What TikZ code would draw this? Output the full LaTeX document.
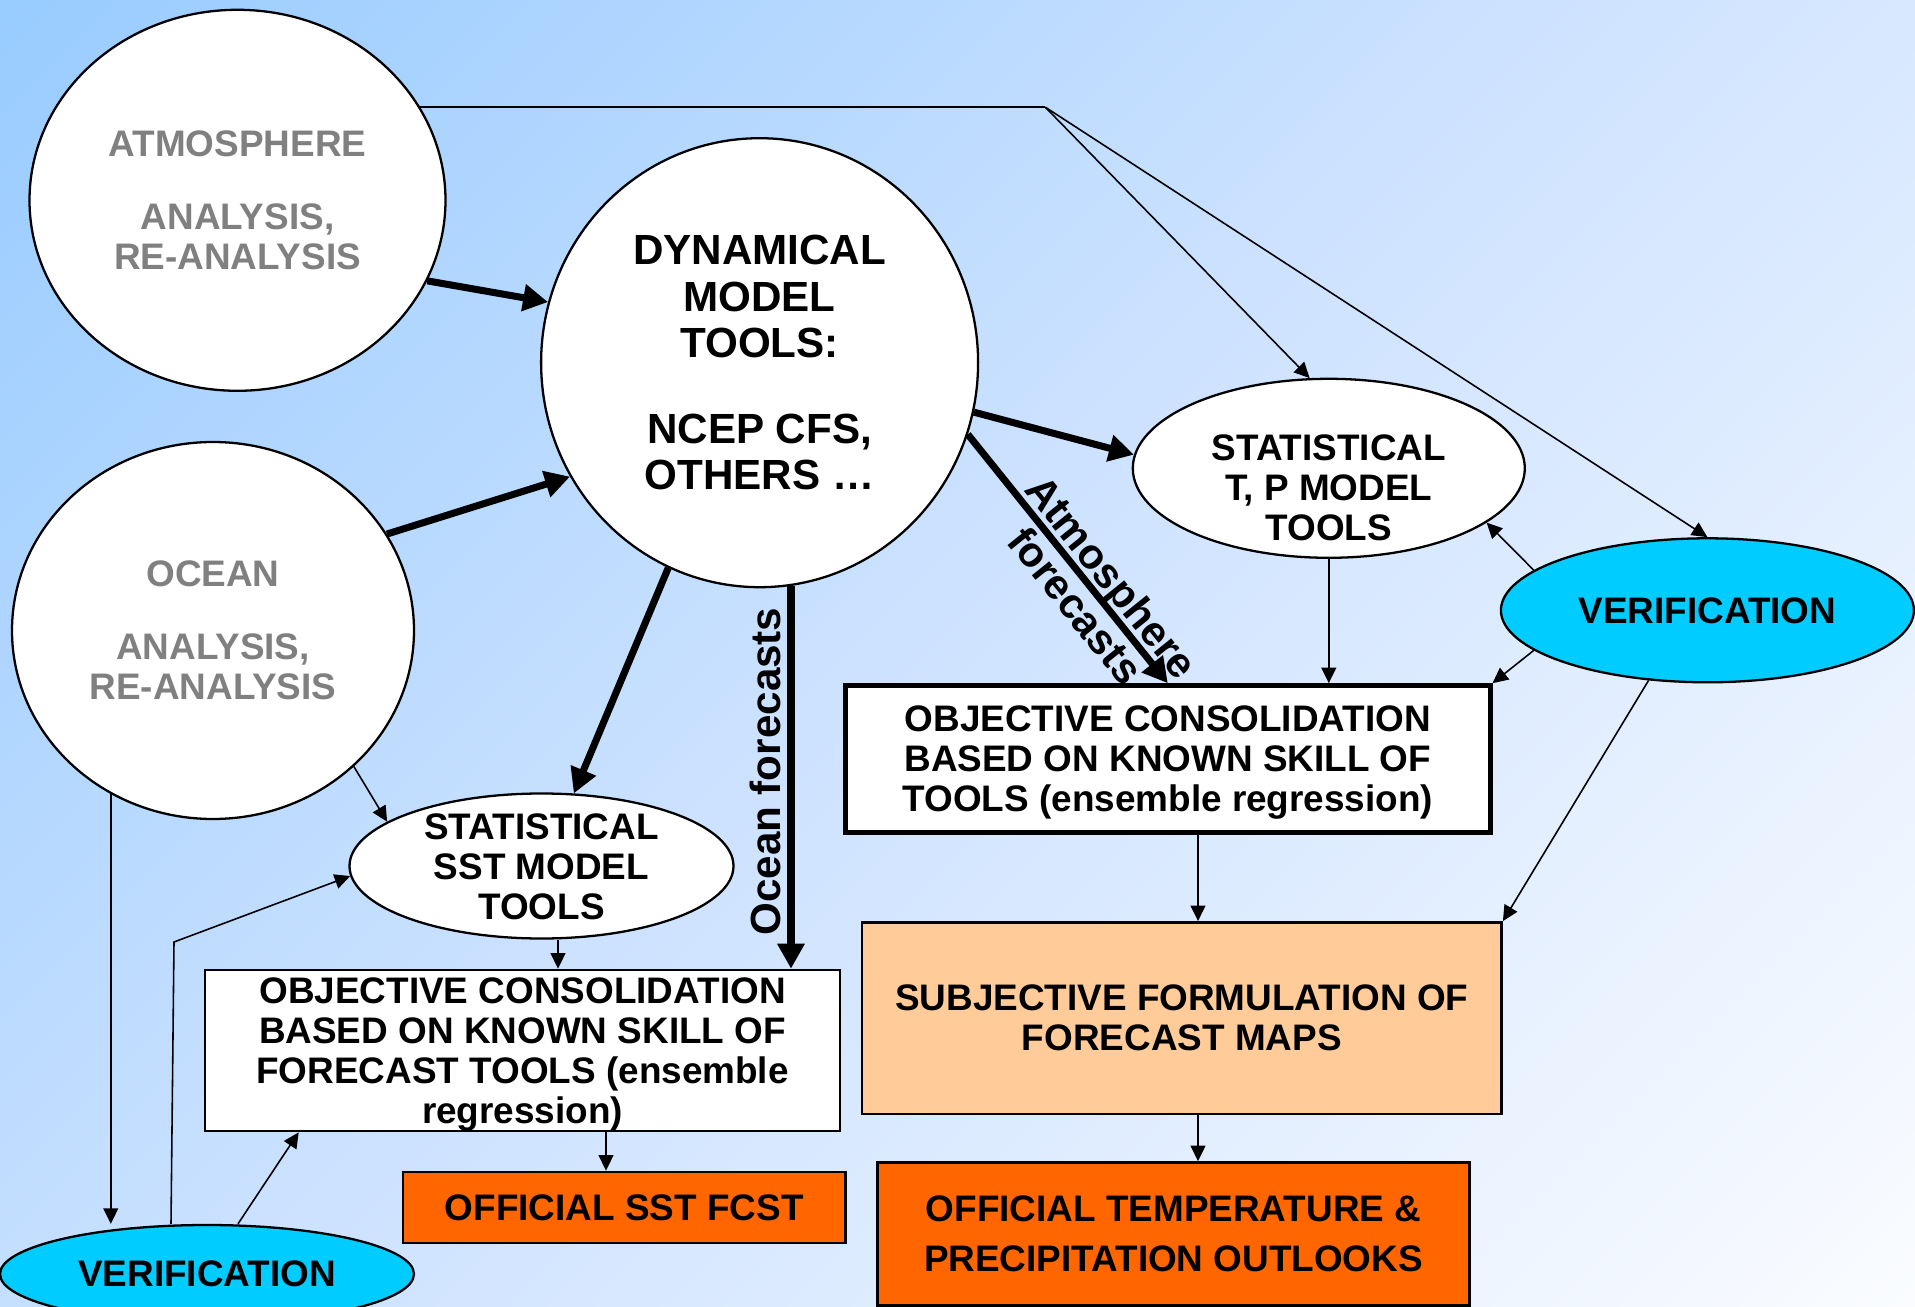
\documentclass[tikz,border=0pt]{standalone}
\usepackage{fontspec}
\setmainfont{Liberation Sans}
\usetikzlibrary{shapes.geometric,arrows.meta,calc}
\definecolor{bgA}{HTML}{99CCFF}
\definecolor{bgM}{HTML}{CFE3FF}
\definecolor{bgB}{HTML}{FAFCFF}
\definecolor{txtgray}{HTML}{808080}
\definecolor{verif}{HTML}{00CCFF}
\definecolor{peach}{HTML}{FFCC99}
\definecolor{orng}{HTML}{FF6600}
\begin{document}
\begin{tikzpicture}[x=0.1mm,y=-0.1mm,
  font=\fontsize{10.5}{11.4}\selectfont\bfseries,
  ell/.style={ellipse,draw,line width=0.65pt,fill=white,inner sep=0pt},
  box/.style={rectangle,draw,line width=0.75pt,fill=white,inner sep=0pt,align=center},
  thickarrow/.style={line width=2pt,-{Triangle[length=7.1pt,width=7.4pt]}},
  thinarrow/.style={line width=0.45pt,-{Triangle[length=4.4pt,width=4.2pt]}},
  thinline/.style={line width=0.45pt},
  big/.style={font=\fontsize{12}{13.2}\selectfont\bfseries},
]
\useasboundingbox (0,0) rectangle (1915,1307);
\begin{scope}
\clip (0,0) rectangle (1915,1307);
\shade[top color=bgA, bottom color=bgB, middle color=bgM, shading angle=45]
  (957.5,653.5) ++(-1139,-1139) rectangle ++(2278,2278);
\end{scope}

% ellipses
\node[ell, minimum width=41.6mm, minimum height=38.1mm, text=txtgray, align=center] (atm) at (237.5,200.3)
  {ATMOSPHERE\\[9.4pt]ANALYSIS,\\RE-ANALYSIS};
\node[ell, minimum width=40.2mm, minimum height=37.7mm, text=txtgray, align=center] (oc) at (213,630.5)
  {OCEAN\\[9.4pt]ANALYSIS,\\RE-ANALYSIS};
\node[ell, big, align=center, minimum width=43.7mm, minimum height=44.9mm] (dyn) at (759.6,362.7)
  {DYNAMICAL\\MODEL\\TOOLS:\\[11.1pt]NCEP CFS,\\OTHERS …};
\node[ell, minimum width=39.2mm, minimum height=17.9mm] (stp) at (1328.8,468.3) {};
\node[align=center] (stpt) at (1328.8,487.5) {STATISTICAL\\T, P MODEL\\TOOLS};
\node[ell, fill=verif, minimum width=41.3mm, minimum height=14.4mm] (vr) at (1707.4,610.3) {VERIFICATION};
\node[ell, minimum width=38.4mm, minimum height=14.5mm] (sst) at (541.5,866) {};
\node[align=center] (sstt) at (541.5,867) {STATISTICAL\\SST MODEL\\TOOLS};
\node[ell, fill=verif, minimum width=41.4mm, minimum height=9.8mm] (vb) at (207,1274) {VERIFICATION};

% boxes
\node[box, line width=1.4pt, text depth=0pt, minimum width=64.45mm, minimum height=14.65mm] (objr) at (1167.8,758.9)
  {OBJECTIVE CONSOLIDATION\\BASED ON KNOWN SKILL OF\\TOOLS (ensemble regression)};
\node[box, text depth=0pt, minimum width=63.5mm, minimum height=16.1mm] (objl) at (522.5,1050.5)
  {OBJECTIVE CONSOLIDATION\\BASED ON KNOWN SKILL OF\\FORECAST TOOLS (ensemble\\regression)};
\node[box, fill=peach, minimum width=63.96mm, minimum height=19.16mm] (subj) at (1181.8,1018.2)
  {SUBJECTIVE FORMULATION OF\\FORECAST MAPS};
\node[box, fill=orng, minimum width=44.26mm, minimum height=7.1mm] (ofS) at (624.3,1207.5)
  {OFFICIAL SST FCST};
\node[box, fill=orng, font=\fontsize{10.5}{14.2}\selectfont\bfseries, minimum width=59.17mm, minimum height=14.3mm] (ofT) at (1173.5,1234)
  {OFFICIAL TEMPERATURE \&\\PRECIPITATION OUTLOOKS};

% thick arrows
\draw[thickarrow] (atm.-23) -- (dyn.164);
\draw[thickarrow] (oc.29) -- (dyn.-149);
\draw[thickarrow] (dyn.-13) -- (stp.176);
\draw[thickarrow] (dyn.-19) -- node[big, sloped, pos=0.63, align=center] (atmlab) {Atmosphere\\forecasts} (objr.north);
\draw[thickarrow] (dyn.-114) -- (sst.66);
\draw[thickarrow] (dyn.-82) -- (dyn.-82 |- objl.north);
\node[big, rotate=90, anchor=base] (oclab) at ($(dyn.-82)!0.485!(dyn.-82 |- objl.north)+(-10,0)$) {Ocean forecasts};

% thin connectors
\coordinate (jx) at ($(atm.27.5)+(625,0)$);
\draw[thinline] (atm.27.5) -- (jx);
\draw[thinarrow] (jx) -- (stp.102);
\draw[thinarrow] (jx) -- (vr.north);
\draw[thinarrow] (vr.167) -- (stp.-19);
\draw[thinarrow] (vr.193) -- (objr.north east);
\draw[thinarrow] (vr.-130) -- (subj.north east);
\draw[thinarrow] (stp.south) -- (stp.south |- objr.north);
\coordinate (cx) at (1198,0);
\draw[thinarrow] (objr.south -| cx) -- (subj.north -| cx);
\draw[thinarrow] (subj.south -| cx) -- (ofT.north -| cx);

\draw[thinarrow] (oc.-44) -- (sst.164);
\draw[thinarrow] (oc.-122) -- (oc.-122 |- vb.north);
\coordinate (k0) at (171,0);
\coordinate (k1) at (174,942);
\draw[thinarrow] (vb.north -| k0) -- (k1) -- (sst.183);
\coordinate (k2) at (238,0);
\draw[thinarrow] (vb.north -| k2) -- ($(objl.south west)+(95,0)$);
\coordinate (k3) at (558,0);
\draw[thinarrow] (sst.south -| k3) -- (objl.north -| k3);
\coordinate (k4) at (606,0);
\draw[thinarrow] (objl.south -| k4) -- (ofS.north -| k4);
\end{tikzpicture}
\end{document}
